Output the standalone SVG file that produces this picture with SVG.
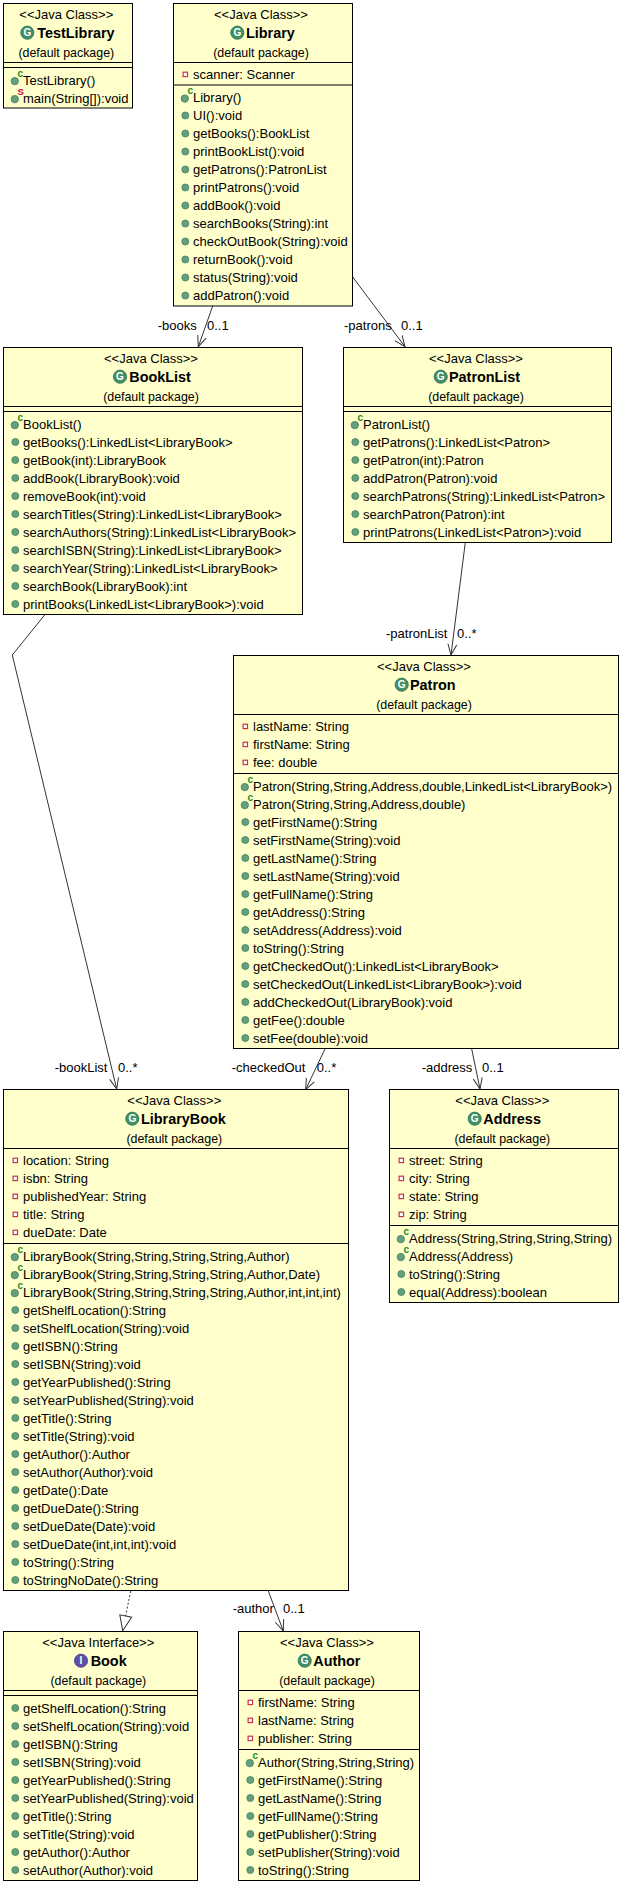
<svg xmlns="http://www.w3.org/2000/svg" xmlns:xlink="http://www.w3.org/1999/xlink" width="622" height="1884" viewBox="0 0 622 1884">
<style>
text{font-family:"Liberation Sans",Arial,sans-serif;font-size:13px;fill:#000}
.box{fill:#ffffcc;stroke:#000;stroke-width:1}
.sep{stroke:#000;stroke-width:1;fill:none}
.c{text-anchor:middle}
.p{font-size:12.4px}
.n{font-weight:bold;font-size:14.4px}
.g{font-family:"Liberation Sans",Arial,sans-serif;font-weight:bold;font-size:10px;fill:#fff;text-anchor:middle}
.k{font-weight:bold;font-size:10px;fill:#1f8a1f}
.s{font-weight:bold;font-size:9.5px;fill:#c40040}
.edge{fill:none;stroke:#333;stroke-width:1}
.lbl{font-size:13px}
</style>
<defs>
<marker id="open" markerUnits="userSpaceOnUse" markerWidth="14" markerHeight="12" refX="11" refY="6" orient="auto"><path d="M0,1.5 L11,6 L0,10.5" fill="none" stroke="#333" stroke-width="1"/></marker>
<marker id="tri" markerUnits="userSpaceOnUse" markerWidth="18" markerHeight="16" refX="16" refY="8" orient="auto"><path d="M1,2 L16,8 L1,14 Z" fill="#fff" stroke="#333" stroke-width="1"/></marker>
<g id="m"><circle cx="11.8" cy="-4.5" r="3.5" fill="#64a07c" stroke="#3f7f5f" stroke-width="0.8"/></g>
<g id="k"><circle cx="11.3" cy="-3.4" r="3.7" fill="#64a07c" stroke="#3f7f5f" stroke-width="0.8"/></g>
<g id="f"><rect x="9.6" y="-6.8" width="4.4" height="4.4" fill="#fff" stroke="#c8324a" stroke-width="1.2"/></g>
<g id="ci"><circle r="6.6" fill="#3f8f68" stroke="#2f6f50" stroke-width="0.8"/></g>
<g id="ii"><circle r="6.6" fill="#5a50a8" stroke="#463c90" stroke-width="0.8"/></g>
</defs>
<g id="connectors">
<path class="edge" d="M212.7,306 L198.3,346.7" marker-end="url(#open)"/>
<path class="edge" d="M352.7,277 L405,346.7" marker-end="url(#open)"/>
<path class="edge" d="M465.3,542.5 L451,655" marker-end="url(#open)"/>
<path class="edge" d="M45,614.5 L12.3,655 L116.7,1089" marker-end="url(#open)"/>
<path class="edge" d="M325,1049 L305.7,1089.5" marker-end="url(#open)"/>
<path class="edge" d="M471.7,1049 L480,1089" marker-end="url(#open)"/>
<path class="edge" d="M130.7,1591 L122.7,1630.7" stroke-dasharray="2,2" marker-end="url(#tri)"/>
<path class="edge" d="M268.3,1591 L283.3,1631" marker-end="url(#open)"/>
<text class="lbl" x="157.7" y="330">-books</text><text class="lbl" x="207" y="330">0..1</text>
<text class="lbl" x="344" y="330">-patrons</text><text class="lbl" x="401" y="330">0..1</text>
<text class="lbl" x="386" y="638">-patronList</text><text class="lbl" x="457" y="638">0..*</text>
<text class="lbl" x="54.7" y="1072">-bookList</text><text class="lbl" x="118" y="1072">0..*</text>
<text class="lbl" x="231.7" y="1072">-checkedOut</text><text class="lbl" x="316.7" y="1072">0..*</text>
<text class="lbl" x="421.7" y="1072">-address</text><text class="lbl" x="482" y="1072">0..1</text>
<text class="lbl" x="232.7" y="1613">-author</text><text class="lbl" x="283" y="1613">0..1</text>
</g>
<g id="TestLibrary" transform="translate(3.5,3.5)">
<rect class="box" width="129" height="104.5"/>
<path class="sep" d="M0,59H129M0,64H129"/>
<text class="c" x="62.8" y="15.5">&lt;&lt;Java Class&gt;&gt;</text>
<use href="#ci" x="23.8" y="29.2"/><text class="g" x="23.8" y="32.8">G</text>
<text class="n" x="33.8" y="34.8">TestLibrary</text>
<text class="c p" x="62.8" y="53">(default package)</text>
<use href="#k" y="81"/><text class="k" x="14" y="73">c</text><text x="19.5" y="81">TestLibrary()</text>
<use href="#k" y="99"/><text class="s" x="14" y="91">S</text><text x="19.5" y="99">main(String[]):void</text>
</g>
<g id="Library" transform="translate(173.5,3.5)">
<rect class="box" width="179" height="302.5"/>
<path class="sep" d="M0,59H179M0,81.5H179"/>
<text class="c" x="87.5" y="15.5">&lt;&lt;Java Class&gt;&gt;</text>
<use href="#ci" x="63.8" y="29.2"/><text class="g" x="63.8" y="32.8">G</text>
<text class="n" x="72.5" y="34.8">Library</text>
<text class="c p" x="87.5" y="53">(default package)</text>
<use href="#f" y="75.5"/><text x="19.5" y="75.5">scanner: Scanner</text>
<use href="#k" y="98.5"/><text class="k" x="14" y="90.5">c</text><text x="19.5" y="98.5">Library()</text>
<use href="#m" y="116.5"/><text x="19.5" y="116.5">UI():void</text>
<use href="#m" y="134.5"/><text x="19.5" y="134.5">getBooks():BookList</text>
<use href="#m" y="152.5"/><text x="19.5" y="152.5">printBookList():void</text>
<use href="#m" y="170.5"/><text x="19.5" y="170.5">getPatrons():PatronList</text>
<use href="#m" y="188.5"/><text x="19.5" y="188.5">printPatrons():void</text>
<use href="#m" y="206.5"/><text x="19.5" y="206.5">addBook():void</text>
<use href="#m" y="224.5"/><text x="19.5" y="224.5">searchBooks(String):int</text>
<use href="#m" y="242.5"/><text x="19.5" y="242.5">checkOutBook(String):void</text>
<use href="#m" y="260.5"/><text x="19.5" y="260.5">returnBook():void</text>
<use href="#m" y="278.5"/><text x="19.5" y="278.5">status(String):void</text>
<use href="#m" y="296.5"/><text x="19.5" y="296.5">addPatron():void</text>
</g>
<g id="BookList" transform="translate(3.5,347.5)">
<rect class="box" width="299" height="267"/>
<path class="sep" d="M0,59H299M0,64H299"/>
<text class="c" x="147.5" y="15.5">&lt;&lt;Java Class&gt;&gt;</text>
<use href="#ci" x="116.5" y="29.2"/><text class="g" x="116.5" y="32.8">G</text>
<text class="n" x="125.8" y="34.8">BookList</text>
<text class="c p" x="147.5" y="53">(default package)</text>
<use href="#k" y="81"/><text class="k" x="14" y="73">c</text><text x="19.5" y="81">BookList()</text>
<use href="#m" y="99"/><text x="19.5" y="99">getBooks():LinkedList&lt;LibraryBook&gt;</text>
<use href="#m" y="117"/><text x="19.5" y="117">getBook(int):LibraryBook</text>
<use href="#m" y="135"/><text x="19.5" y="135">addBook(LibraryBook):void</text>
<use href="#m" y="153"/><text x="19.5" y="153">removeBook(int):void</text>
<use href="#m" y="171"/><text x="19.5" y="171">searchTitles(String):LinkedList&lt;LibraryBook&gt;</text>
<use href="#m" y="189"/><text x="19.5" y="189">searchAuthors(String):LinkedList&lt;LibraryBook&gt;</text>
<use href="#m" y="207"/><text x="19.5" y="207">searchISBN(String):LinkedList&lt;LibraryBook&gt;</text>
<use href="#m" y="225"/><text x="19.5" y="225">searchYear(String):LinkedList&lt;LibraryBook&gt;</text>
<use href="#m" y="243"/><text x="19.5" y="243">searchBook(LibraryBook):int</text>
<use href="#m" y="261"/><text x="19.5" y="261">printBooks(LinkedList&lt;LibraryBook&gt;):void</text>
</g>
<g id="PatronList" transform="translate(343.5,347.5)">
<rect class="box" width="268" height="195"/>
<path class="sep" d="M0,59H268M0,64H268"/>
<text class="c" x="132.5" y="15.5">&lt;&lt;Java Class&gt;&gt;</text>
<use href="#ci" x="97.2" y="29.2"/><text class="g" x="97.2" y="32.8">G</text>
<text class="n" x="105.5" y="34.8">PatronList</text>
<text class="c p" x="132.5" y="53">(default package)</text>
<use href="#k" y="81"/><text class="k" x="14" y="73">c</text><text x="19.5" y="81">PatronList()</text>
<use href="#m" y="99"/><text x="19.5" y="99">getPatrons():LinkedList&lt;Patron&gt;</text>
<use href="#m" y="117"/><text x="19.5" y="117">getPatron(int):Patron</text>
<use href="#m" y="135"/><text x="19.5" y="135">addPatron(Patron):void</text>
<use href="#m" y="153"/><text x="19.5" y="153">searchPatrons(String):LinkedList&lt;Patron&gt;</text>
<use href="#m" y="171"/><text x="19.5" y="171">searchPatron(Patron):int</text>
<use href="#m" y="189"/><text x="19.5" y="189">printPatrons(LinkedList&lt;Patron&gt;):void</text>
</g>
<g id="Patron" transform="translate(233.5,655.5)">
<rect class="box" width="385" height="393"/>
<path class="sep" d="M0,59H385M0,118H385"/>
<text class="c" x="190.5" y="15.5">&lt;&lt;Java Class&gt;&gt;</text>
<use href="#ci" x="168.2" y="29.2"/><text class="g" x="168.2" y="32.8">G</text>
<text class="n" x="176.5" y="34.8">Patron</text>
<text class="c p" x="190.5" y="53">(default package)</text>
<use href="#f" y="75.5"/><text x="19.5" y="75.5">lastName: String</text>
<use href="#f" y="93.5"/><text x="19.5" y="93.5">firstName: String</text>
<use href="#f" y="111.5"/><text x="19.5" y="111.5">fee: double</text>
<use href="#k" y="135"/><text class="k" x="14" y="127">c</text><text x="19.5" y="135">Patron(String,String,Address,double,LinkedList&lt;LibraryBook&gt;)</text>
<use href="#k" y="153"/><text class="k" x="14" y="145">c</text><text x="19.5" y="153">Patron(String,String,Address,double)</text>
<use href="#m" y="171"/><text x="19.5" y="171">getFirstName():String</text>
<use href="#m" y="189"/><text x="19.5" y="189">setFirstName(String):void</text>
<use href="#m" y="207"/><text x="19.5" y="207">getLastName():String</text>
<use href="#m" y="225"/><text x="19.5" y="225">setLastName(String):void</text>
<use href="#m" y="243"/><text x="19.5" y="243">getFullName():String</text>
<use href="#m" y="261"/><text x="19.5" y="261">getAddress():String</text>
<use href="#m" y="279"/><text x="19.5" y="279">setAddress(Address):void</text>
<use href="#m" y="297"/><text x="19.5" y="297">toString():String</text>
<use href="#m" y="315"/><text x="19.5" y="315">getCheckedOut():LinkedList&lt;LibraryBook&gt;</text>
<use href="#m" y="333"/><text x="19.5" y="333">setCheckedOut(LinkedList&lt;LibraryBook&gt;):void</text>
<use href="#m" y="351"/><text x="19.5" y="351">addCheckedOut(LibraryBook):void</text>
<use href="#m" y="369"/><text x="19.5" y="369">getFee():double</text>
<use href="#m" y="387"/><text x="19.5" y="387">setFee(double):void</text>
</g>
<g id="LibraryBook" transform="translate(3.5,1089.5)">
<rect class="box" width="345" height="501"/>
<path class="sep" d="M0,59H345M0,154H345"/>
<text class="c" x="170.8" y="15.5">&lt;&lt;Java Class&gt;&gt;</text>
<use href="#ci" x="128.8" y="29.2"/><text class="g" x="128.8" y="32.8">G</text>
<text class="n" x="137.5" y="34.8">LibraryBook</text>
<text class="c p" x="170.8" y="53">(default package)</text>
<use href="#f" y="75.5"/><text x="19.5" y="75.5">location: String</text>
<use href="#f" y="93.5"/><text x="19.5" y="93.5">isbn: String</text>
<use href="#f" y="111.5"/><text x="19.5" y="111.5">publishedYear: String</text>
<use href="#f" y="129.5"/><text x="19.5" y="129.5">title: String</text>
<use href="#f" y="147.5"/><text x="19.5" y="147.5">dueDate: Date</text>
<use href="#k" y="171"/><text class="k" x="14" y="163">c</text><text x="19.5" y="171">LibraryBook(String,String,String,String,Author)</text>
<use href="#k" y="189"/><text class="k" x="14" y="181">c</text><text x="19.5" y="189">LibraryBook(String,String,String,String,Author,Date)</text>
<use href="#k" y="207"/><text class="k" x="14" y="199">c</text><text x="19.5" y="207">LibraryBook(String,String,String,String,Author,int,int,int)</text>
<use href="#m" y="225"/><text x="19.5" y="225">getShelfLocation():String</text>
<use href="#m" y="243"/><text x="19.5" y="243">setShelfLocation(String):void</text>
<use href="#m" y="261"/><text x="19.5" y="261">getISBN():String</text>
<use href="#m" y="279"/><text x="19.5" y="279">setISBN(String):void</text>
<use href="#m" y="297"/><text x="19.5" y="297">getYearPublished():String</text>
<use href="#m" y="315"/><text x="19.5" y="315">setYearPublished(String):void</text>
<use href="#m" y="333"/><text x="19.5" y="333">getTitle():String</text>
<use href="#m" y="351"/><text x="19.5" y="351">setTitle(String):void</text>
<use href="#m" y="369"/><text x="19.5" y="369">getAuthor():Author</text>
<use href="#m" y="387"/><text x="19.5" y="387">setAuthor(Author):void</text>
<use href="#m" y="405"/><text x="19.5" y="405">getDate():Date</text>
<use href="#m" y="423"/><text x="19.5" y="423">getDueDate():String</text>
<use href="#m" y="441"/><text x="19.5" y="441">setDueDate(Date):void</text>
<use href="#m" y="459"/><text x="19.5" y="459">setDueDate(int,int,int):void</text>
<use href="#m" y="477"/><text x="19.5" y="477">toString():String</text>
<use href="#m" y="495"/><text x="19.5" y="495">toStringNoDate():String</text>
</g>
<g id="Address" transform="translate(389.5,1089.5)">
<rect class="box" width="229" height="213"/>
<path class="sep" d="M0,59H229M0,136H229"/>
<text class="c" x="112.8" y="15.5">&lt;&lt;Java Class&gt;&gt;</text>
<use href="#ci" x="85.2" y="29.2"/><text class="g" x="85.2" y="32.8">G</text>
<text class="n" x="93.8" y="34.8">Address</text>
<text class="c p" x="112.8" y="53">(default package)</text>
<use href="#f" y="75.5"/><text x="19.5" y="75.5">street: String</text>
<use href="#f" y="93.5"/><text x="19.5" y="93.5">city: String</text>
<use href="#f" y="111.5"/><text x="19.5" y="111.5">state: String</text>
<use href="#f" y="129.5"/><text x="19.5" y="129.5">zip: String</text>
<use href="#k" y="153"/><text class="k" x="14" y="145">c</text><text x="19.5" y="153">Address(String,String,String,String)</text>
<use href="#k" y="171"/><text class="k" x="14" y="163">c</text><text x="19.5" y="171">Address(Address)</text>
<use href="#m" y="189"/><text x="19.5" y="189">toString():String</text>
<use href="#m" y="207"/><text x="19.5" y="207">equal(Address):boolean</text>
</g>
<g id="Book" transform="translate(3.5,1631.5)">
<rect class="box" width="194" height="249"/>
<path class="sep" d="M0,59H194M0,64H194"/>
<text class="c" x="94.8" y="15.5">&lt;&lt;Java Interface&gt;&gt;</text>
<use href="#ii" x="77.5" y="29.2"/><text class="g" x="77.5" y="32.8">I</text>
<text class="n" x="87.2" y="34.8">Book</text>
<text class="c p" x="94.8" y="53">(default package)</text>
<use href="#m" y="81"/><text x="19.5" y="81">getShelfLocation():String</text>
<use href="#m" y="99"/><text x="19.5" y="99">setShelfLocation(String):void</text>
<use href="#m" y="117"/><text x="19.5" y="117">getISBN():String</text>
<use href="#m" y="135"/><text x="19.5" y="135">setISBN(String):void</text>
<use href="#m" y="153"/><text x="19.5" y="153">getYearPublished():String</text>
<use href="#m" y="171"/><text x="19.5" y="171">setYearPublished(String):void</text>
<use href="#m" y="189"/><text x="19.5" y="189">getTitle():String</text>
<use href="#m" y="207"/><text x="19.5" y="207">setTitle(String):void</text>
<use href="#m" y="225"/><text x="19.5" y="225">getAuthor():Author</text>
<use href="#m" y="243"/><text x="19.5" y="243">setAuthor(Author):void</text>
</g>
<g id="Author" transform="translate(238.5,1631.5)">
<rect class="box" width="181" height="249"/>
<path class="sep" d="M0,59H181M0,118H181"/>
<text class="c" x="88.5" y="15.5">&lt;&lt;Java Class&gt;&gt;</text>
<use href="#ci" x="66.2" y="29.2"/><text class="g" x="66.2" y="32.8">G</text>
<text class="n" x="74.8" y="34.8">Author</text>
<text class="c p" x="88.5" y="53">(default package)</text>
<use href="#f" y="75.5"/><text x="19.5" y="75.5">firstName: String</text>
<use href="#f" y="93.5"/><text x="19.5" y="93.5">lastName: String</text>
<use href="#f" y="111.5"/><text x="19.5" y="111.5">publisher: String</text>
<use href="#k" y="135"/><text class="k" x="14" y="127">c</text><text x="19.5" y="135">Author(String,String,String)</text>
<use href="#m" y="153"/><text x="19.5" y="153">getFirstName():String</text>
<use href="#m" y="171"/><text x="19.5" y="171">getLastName():String</text>
<use href="#m" y="189"/><text x="19.5" y="189">getFullName():String</text>
<use href="#m" y="207"/><text x="19.5" y="207">getPublisher():String</text>
<use href="#m" y="225"/><text x="19.5" y="225">setPublisher(String):void</text>
<use href="#m" y="243"/><text x="19.5" y="243">toString():String</text>
</g>
</svg>
